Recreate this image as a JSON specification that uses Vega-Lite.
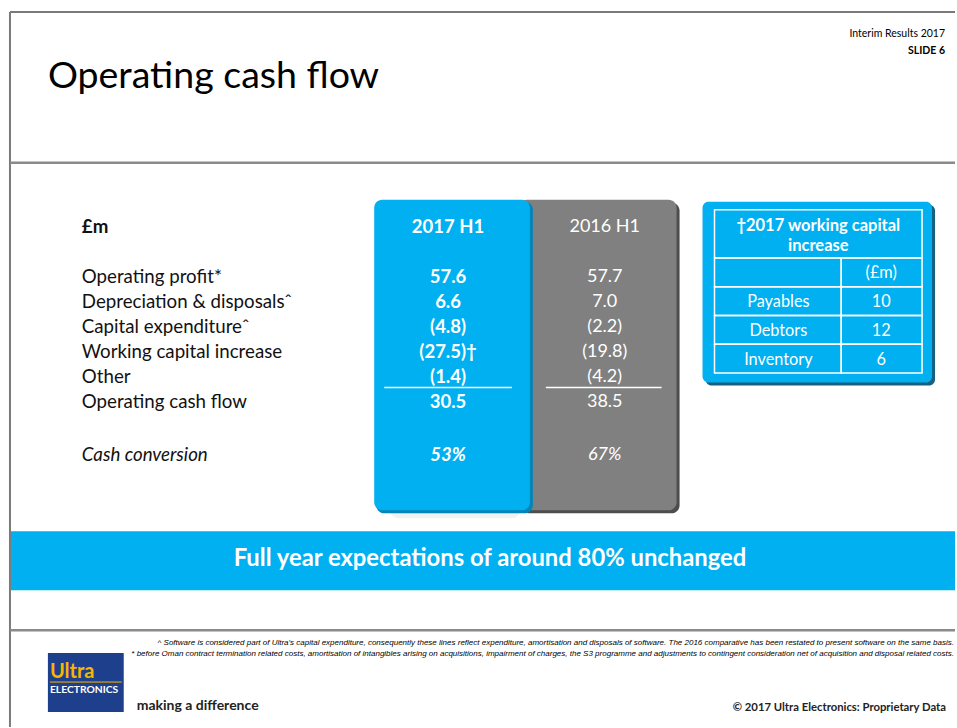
{
  "$schema": "https://vega.github.io/schema/vega-lite/v6.json",
  "width": 957,
  "height": 728,
  "autosize": {"type": "fit", "contains": "padding"},
  "padding": 0,
  "background": "#ffffff",
  "config": {"view": {"stroke": null}, "font": "Lato", "text": {"font": "Lato"}},
  "datasets": {
    "cashflow": [
      {"item": "£m", "h2017": "2017 H1", "h2016": "2016 H1"},
      {"item": "Operating profit*", "h2017": "57.6", "h2016": "57.7"},
      {"item": "Depreciation & disposalsˆ", "h2017": "6.6", "h2016": "7.0"},
      {"item": "Capital expenditureˆ", "h2017": "(4.8)", "h2016": "(2.2)"},
      {"item": "Working capital increase", "h2017": "(27.5)†", "h2016": "(19.8)"},
      {"item": "Other", "h2017": "(1.4)", "h2016": "(4.2)"},
      {"item": "Operating cash flow", "h2017": "30.5", "h2016": "38.5"},
      {"item": "Cash conversion", "h2017": "53%", "h2016": "67%"}
    ],
    "wc": [
      {"component": "(header)", "label": "", "amount": "(£m)"},
      {"component": "Payables", "label": "Payables", "amount": "10"},
      {"component": "Debtors", "label": "Debtors", "amount": "12"},
      {"component": "Inventory", "label": "Inventory", "amount": "6"}
    ]
  },
  "resolve": {"scale": {"x": "shared", "y": "independent"}},
  "layer": [
    {
      "data": {"values": [{}]},
      "mark": {"type": "rule", "stroke": "#7a7a7a", "strokeWidth": 2},
      "encoding": {
        "x": {"datum": 10, "type": "quantitative", "scale": {"domain": [0, 957], "nice": false, "zero": false}, "axis": null},
        "x2": {"datum": 957},
        "y": {"datum": 12, "type": "quantitative", "scale": {"domain": [0, 728], "reverse": true, "nice": false, "zero": false}, "axis": null}
      }
    },
    {
      "data": {"values": [{}]},
      "mark": {"type": "rule", "stroke": "#7a7a7a", "strokeWidth": 2},
      "encoding": {
        "x": {"datum": 10, "type": "quantitative", "scale": {"domain": [0, 957], "nice": false, "zero": false}, "axis": null},
        "y": {"datum": 12, "type": "quantitative", "scale": {"domain": [0, 728], "reverse": true, "nice": false, "zero": false}, "axis": null},
        "y2": {"datum": 728}
      }
    },
    {
      "data": {"values": [{}]},
      "mark": {"type": "rule", "stroke": "#8a8a8a", "strokeWidth": 2.5},
      "encoding": {
        "x": {"datum": 10, "type": "quantitative", "scale": {"domain": [0, 957], "nice": false, "zero": false}, "axis": null},
        "x2": {"datum": 957},
        "y": {"datum": 163, "type": "quantitative", "scale": {"domain": [0, 728], "reverse": true, "nice": false, "zero": false}, "axis": null}
      }
    },
    {
      "data": {"values": [{}]},
      "mark": {"type": "rule", "stroke": "#8a8a8a", "strokeWidth": 2.5},
      "encoding": {
        "x": {"datum": 10, "type": "quantitative", "scale": {"domain": [0, 957], "nice": false, "zero": false}, "axis": null},
        "x2": {"datum": 957},
        "y": {"datum": 631, "type": "quantitative", "scale": {"domain": [0, 728], "reverse": true, "nice": false, "zero": false}, "axis": null}
      }
    },
    {
      "data": {"values": [{}]},
      "mark": {"type": "text", "align": "left", "baseline": "alphabetic", "fontSize": 37.5, "fill": "#000000"},
      "encoding": {
        "x": {"datum": 48, "type": "quantitative", "scale": {"domain": [0, 957], "nice": false, "zero": false}, "axis": null},
        "y": {"datum": 88, "type": "quantitative", "scale": {"domain": [0, 728], "reverse": true, "nice": false, "zero": false}, "axis": null},
        "text": {"value": "Operating cash flow"}
      }
    },
    {
      "data": {"values": [{}]},
      "mark": {"type": "text", "align": "right", "baseline": "middle", "fontSize": 10.5, "fill": "#000000"},
      "encoding": {
        "x": {"datum": 947, "type": "quantitative", "scale": {"domain": [0, 957], "nice": false, "zero": false}, "axis": null},
        "y": {"datum": 34, "type": "quantitative", "scale": {"domain": [0, 728], "reverse": true, "nice": false, "zero": false}, "axis": null},
        "text": {"value": "Interim Results 2017"}
      }
    },
    {
      "data": {"values": [{}]},
      "mark": {"type": "text", "align": "right", "baseline": "middle", "fontSize": 10.5, "fontWeight": "bold", "fill": "#000000"},
      "encoding": {
        "x": {"datum": 947, "type": "quantitative", "scale": {"domain": [0, 957], "nice": false, "zero": false}, "axis": null},
        "y": {"datum": 51, "type": "quantitative", "scale": {"domain": [0, 728], "reverse": true, "nice": false, "zero": false}, "axis": null},
        "text": {"value": "SLIDE 6"}
      }
    },
    {
      "data": {"values": [{}]},
      "mark": {"type": "rect", "fill": "#000000", "opacity": 0.05, "cornerRadius": 10},
      "encoding": {
        "x": {"datum": 390, "type": "quantitative", "scale": {"domain": [0, 957], "nice": false, "zero": false}, "axis": null},
        "x2": {"datum": 522},
        "y": {"datum": 500, "type": "quantitative", "scale": {"domain": [0, 728], "reverse": true, "nice": false, "zero": false}, "axis": null},
        "y2": {"datum": 519}
      }
    },
    {
      "data": {"values": [{}]},
      "mark": {"type": "rect", "fill": "#4d4d4d", "cornerRadius": 8},
      "encoding": {
        "x": {"datum": 523, "type": "quantitative", "scale": {"domain": [0, 957], "nice": false, "zero": false}, "axis": null},
        "x2": {"datum": 681},
        "y": {"datum": 203, "type": "quantitative", "scale": {"domain": [0, 728], "reverse": true, "nice": false, "zero": false}, "axis": null},
        "y2": {"datum": 514}
      }
    },
    {
      "data": {"values": [{}]},
      "mark": {"type": "rect", "fill": "#808080", "cornerRadius": 8},
      "encoding": {
        "x": {"datum": 520, "type": "quantitative", "scale": {"domain": [0, 957], "nice": false, "zero": false}, "axis": null},
        "x2": {"datum": 678},
        "y": {"datum": 200, "type": "quantitative", "scale": {"domain": [0, 728], "reverse": true, "nice": false, "zero": false}, "axis": null},
        "y2": {"datum": 511}
      }
    },
    {
      "data": {"values": [{}]},
      "mark": {"type": "rect", "fill": "#0584b6", "cornerRadius": 8},
      "encoding": {
        "x": {"datum": 377, "type": "quantitative", "scale": {"domain": [0, 957], "nice": false, "zero": false}, "axis": null},
        "x2": {"datum": 534},
        "y": {"datum": 202, "type": "quantitative", "scale": {"domain": [0, 728], "reverse": true, "nice": false, "zero": false}, "axis": null},
        "y2": {"datum": 514}
      }
    },
    {
      "data": {"values": [{}]},
      "mark": {"type": "rect", "fill": "#00b0f0", "cornerRadius": 8},
      "encoding": {
        "x": {"datum": 375, "type": "quantitative", "scale": {"domain": [0, 957], "nice": false, "zero": false}, "axis": null},
        "x2": {"datum": 531},
        "y": {"datum": 200, "type": "quantitative", "scale": {"domain": [0, 728], "reverse": true, "nice": false, "zero": false}, "axis": null},
        "y2": {"datum": 511}
      }
    },
    {
      "data": {"values": [{}]},
      "mark": {"type": "rule", "stroke": "#ffffff", "strokeWidth": 1.5},
      "encoding": {
        "x": {"datum": 385, "type": "quantitative", "scale": {"domain": [0, 957], "nice": false, "zero": false}, "axis": null},
        "x2": {"datum": 513},
        "y": {"datum": 388, "type": "quantitative", "scale": {"domain": [0, 728], "reverse": true, "nice": false, "zero": false}, "axis": null}
      }
    },
    {
      "data": {"values": [{}]},
      "mark": {"type": "rule", "stroke": "#ffffff", "strokeWidth": 1.5},
      "encoding": {
        "x": {"datum": 547, "type": "quantitative", "scale": {"domain": [0, 957], "nice": false, "zero": false}, "axis": null},
        "x2": {"datum": 663},
        "y": {"datum": 388, "type": "quantitative", "scale": {"domain": [0, 728], "reverse": true, "nice": false, "zero": false}, "axis": null}
      }
    },
    {
      "data": {"name": "cashflow"},
      "transform": [{"filter": "datum.item !== '£m' && datum.item !== 'Cash conversion'"}],
      "mark": {"type": "text", "align": "left", "baseline": "middle", "fontSize": 18.7, "fill": "#111111"},
      "encoding": {
        "x": {"datum": 82, "type": "quantitative", "scale": {"domain": [0, 957], "nice": false, "zero": false}, "axis": null},
        "y": {"field": "item", "type": "nominal", "axis": null, "scale": {"type": "point", "domain": ["£m", "gap1", "Operating profit*", "Depreciation & disposalsˆ", "Capital expenditureˆ", "Working capital increase", "Other", "Operating cash flow", "gap2", "Cash conversion"], "range": [227, 452], "padding": 0}},
        "text": {"field": "item"}
      }
    },
    {
      "data": {"name": "cashflow"},
      "transform": [{"filter": "datum.item === '£m'"}],
      "mark": {"type": "text", "align": "left", "baseline": "middle", "fontSize": 18.7, "fontWeight": "bold", "fill": "#111111"},
      "encoding": {
        "x": {"datum": 82, "type": "quantitative", "scale": {"domain": [0, 957], "nice": false, "zero": false}, "axis": null},
        "y": {"field": "item", "type": "nominal", "axis": null, "scale": {"type": "point", "domain": ["£m", "gap1", "Operating profit*", "Depreciation & disposalsˆ", "Capital expenditureˆ", "Working capital increase", "Other", "Operating cash flow", "gap2", "Cash conversion"], "range": [227, 452], "padding": 0}},
        "text": {"field": "item"}
      }
    },
    {
      "data": {"name": "cashflow"},
      "transform": [{"filter": "datum.item === 'Cash conversion'"}],
      "mark": {"type": "text", "align": "left", "baseline": "middle", "fontSize": 18.7, "fontStyle": "italic", "fill": "#111111", "dy": 3},
      "encoding": {
        "x": {"datum": 82, "type": "quantitative", "scale": {"domain": [0, 957], "nice": false, "zero": false}, "axis": null},
        "y": {"field": "item", "type": "nominal", "axis": null, "scale": {"type": "point", "domain": ["£m", "gap1", "Operating profit*", "Depreciation & disposalsˆ", "Capital expenditureˆ", "Working capital increase", "Other", "Operating cash flow", "gap2", "Cash conversion"], "range": [227, 452], "padding": 0}},
        "text": {"field": "item"}
      }
    },
    {
      "data": {"name": "cashflow"},
      "transform": [{"filter": "datum.item !== 'Cash conversion'"}],
      "mark": {"type": "text", "align": "center", "baseline": "middle", "fontSize": 18.5, "fontWeight": "bold", "fill": "#ffffff"},
      "encoding": {
        "x": {"datum": 449, "type": "quantitative", "scale": {"domain": [0, 957], "nice": false, "zero": false}, "axis": null},
        "y": {"field": "item", "type": "nominal", "axis": null, "scale": {"type": "point", "domain": ["£m", "gap1", "Operating profit*", "Depreciation & disposalsˆ", "Capital expenditureˆ", "Working capital increase", "Other", "Operating cash flow", "gap2", "Cash conversion"], "range": [227, 452], "padding": 0}},
        "text": {"field": "h2017"}
      }
    },
    {
      "data": {"name": "cashflow"},
      "transform": [{"filter": "datum.item === 'Cash conversion'"}],
      "mark": {"type": "text", "align": "center", "baseline": "middle", "fontSize": 18.5, "fontWeight": "bold", "fontStyle": "italic", "fill": "#ffffff", "dy": 3},
      "encoding": {
        "x": {"datum": 449, "type": "quantitative", "scale": {"domain": [0, 957], "nice": false, "zero": false}, "axis": null},
        "y": {"field": "item", "type": "nominal", "axis": null, "scale": {"type": "point", "domain": ["£m", "gap1", "Operating profit*", "Depreciation & disposalsˆ", "Capital expenditureˆ", "Working capital increase", "Other", "Operating cash flow", "gap2", "Cash conversion"], "range": [227, 452], "padding": 0}},
        "text": {"field": "h2017"}
      }
    },
    {
      "data": {"name": "cashflow"},
      "transform": [{"filter": "datum.item !== 'Cash conversion'"}],
      "mark": {"type": "text", "align": "center", "baseline": "middle", "fontSize": 18, "fill": "#ffffff"},
      "encoding": {
        "x": {"datum": 606, "type": "quantitative", "scale": {"domain": [0, 957], "nice": false, "zero": false}, "axis": null},
        "y": {"field": "item", "type": "nominal", "axis": null, "scale": {"type": "point", "domain": ["£m", "gap1", "Operating profit*", "Depreciation & disposalsˆ", "Capital expenditureˆ", "Working capital increase", "Other", "Operating cash flow", "gap2", "Cash conversion"], "range": [227, 452], "padding": 0}},
        "text": {"field": "h2016"}
      }
    },
    {
      "data": {"name": "cashflow"},
      "transform": [{"filter": "datum.item === 'Cash conversion'"}],
      "mark": {"type": "text", "align": "center", "baseline": "middle", "fontSize": 18, "fontStyle": "italic", "fill": "#ffffff", "dy": 3},
      "encoding": {
        "x": {"datum": 606, "type": "quantitative", "scale": {"domain": [0, 957], "nice": false, "zero": false}, "axis": null},
        "y": {"field": "item", "type": "nominal", "axis": null, "scale": {"type": "point", "domain": ["£m", "gap1", "Operating profit*", "Depreciation & disposalsˆ", "Capital expenditureˆ", "Working capital increase", "Other", "Operating cash flow", "gap2", "Cash conversion"], "range": [227, 452], "padding": 0}},
        "text": {"field": "h2016"}
      }
    },
    {
      "data": {"values": [{}]},
      "mark": {"type": "rect", "fill": "#17607f", "cornerRadius": 6},
      "encoding": {
        "x": {"datum": 707, "type": "quantitative", "scale": {"domain": [0, 957], "nice": false, "zero": false}, "axis": null},
        "x2": {"datum": 937},
        "y": {"datum": 205, "type": "quantitative", "scale": {"domain": [0, 728], "reverse": true, "nice": false, "zero": false}, "axis": null},
        "y2": {"datum": 386}
      }
    },
    {
      "data": {"values": [{}]},
      "mark": {"type": "rect", "fill": "#00b0f0", "cornerRadius": 6},
      "encoding": {
        "x": {"datum": 704, "type": "quantitative", "scale": {"domain": [0, 957], "nice": false, "zero": false}, "axis": null},
        "x2": {"datum": 934},
        "y": {"datum": 202, "type": "quantitative", "scale": {"domain": [0, 728], "reverse": true, "nice": false, "zero": false}, "axis": null},
        "y2": {"datum": 383}
      }
    },
    {
      "data": {"values": [{}]},
      "mark": {"type": "rect", "fillOpacity": 0, "fill": "#00b0f0", "stroke": "#ffffff", "strokeWidth": 1.5},
      "encoding": {
        "x": {"datum": 716, "type": "quantitative", "scale": {"domain": [0, 957], "nice": false, "zero": false}, "axis": null},
        "x2": {"datum": 924},
        "y": {"datum": 210, "type": "quantitative", "scale": {"domain": [0, 728], "reverse": true, "nice": false, "zero": false}, "axis": null},
        "y2": {"datum": 258}
      }
    },
    {
      "data": {"values": [{}]},
      "mark": {"type": "text", "align": "center", "baseline": "middle", "fontSize": 16.5, "fontWeight": "bold", "fill": "#ffffff", "lineHeight": 20},
      "encoding": {
        "x": {"datum": 820, "type": "quantitative", "scale": {"domain": [0, 957], "nice": false, "zero": false}, "axis": null},
        "y": {"datum": 226, "type": "quantitative", "scale": {"domain": [0, 728], "reverse": true, "nice": false, "zero": false}, "axis": null},
        "text": {"value": ["†2017 working capital", "increase"]}
      }
    },
    {
      "data": {"name": "wc"},
      "mark": {"type": "rect", "fillOpacity": 0, "fill": "#00b0f0", "stroke": "#ffffff", "strokeWidth": 1.5},
      "encoding": {
        "x": {"datum": 716, "type": "quantitative", "scale": {"domain": [0, 957], "nice": false, "zero": false}, "axis": null},
        "x2": {"datum": 843},
        "y": {"field": "component", "type": "nominal", "axis": null, "scale": {"type": "band", "domain": ["(header)", "Payables", "Debtors", "Inventory"], "range": [258, 373], "paddingInner": 0, "paddingOuter": 0}}
      }
    },
    {
      "data": {"name": "wc"},
      "mark": {"type": "rect", "fillOpacity": 0, "fill": "#00b0f0", "stroke": "#ffffff", "strokeWidth": 1.5},
      "encoding": {
        "x": {"datum": 843, "type": "quantitative", "scale": {"domain": [0, 957], "nice": false, "zero": false}, "axis": null},
        "x2": {"datum": 924},
        "y": {"field": "component", "type": "nominal", "axis": null, "scale": {"type": "band", "domain": ["(header)", "Payables", "Debtors", "Inventory"], "range": [258, 373], "paddingInner": 0, "paddingOuter": 0}}
      }
    },
    {
      "data": {"name": "wc"},
      "mark": {"type": "text", "align": "center", "baseline": "middle", "fontSize": 16.3, "fill": "#ffffff", "dy": 1},
      "encoding": {
        "x": {"datum": 780, "type": "quantitative", "scale": {"domain": [0, 957], "nice": false, "zero": false}, "axis": null},
        "y": {"field": "component", "type": "nominal", "axis": null, "scale": {"type": "band", "domain": ["(header)", "Payables", "Debtors", "Inventory"], "range": [258, 373], "paddingInner": 0, "paddingOuter": 0}},
        "text": {"field": "label"}
      }
    },
    {
      "data": {"name": "wc"},
      "mark": {"type": "text", "align": "center", "baseline": "middle", "fontSize": 16.3, "fill": "#ffffff", "dy": 1},
      "encoding": {
        "x": {"datum": 883, "type": "quantitative", "scale": {"domain": [0, 957], "nice": false, "zero": false}, "axis": null},
        "y": {"field": "component", "type": "nominal", "axis": null, "scale": {"type": "band", "domain": ["(header)", "Payables", "Debtors", "Inventory"], "range": [258, 373], "paddingInner": 0, "paddingOuter": 0}},
        "text": {"field": "amount"}
      }
    },
    {
      "data": {"values": [{}]},
      "mark": {"type": "rect", "fill": "#00b0f0"},
      "encoding": {
        "x": {"datum": 11, "type": "quantitative", "scale": {"domain": [0, 957], "nice": false, "zero": false}, "axis": null},
        "x2": {"datum": 957},
        "y": {"datum": 532, "type": "quantitative", "scale": {"domain": [0, 728], "reverse": true, "nice": false, "zero": false}, "axis": null},
        "y2": {"datum": 591}
      }
    },
    {
      "data": {"values": [{}]},
      "mark": {"type": "text", "align": "center", "baseline": "middle", "fontSize": 23.8, "fontWeight": "bold", "fill": "#ffffff"},
      "encoding": {
        "x": {"datum": 491, "type": "quantitative", "scale": {"domain": [0, 957], "nice": false, "zero": false}, "axis": null},
        "y": {"datum": 560, "type": "quantitative", "scale": {"domain": [0, 728], "reverse": true, "nice": false, "zero": false}, "axis": null},
        "text": {"value": "Full year expectations of around 80% unchanged"}
      }
    },
    {
      "data": {"values": [{}]},
      "mark": {"type": "text", "align": "right", "baseline": "middle", "fontSize": 8, "fontStyle": "italic", "font": "Liberation Sans", "fill": "#000000"},
      "encoding": {
        "x": {"datum": 956, "type": "quantitative", "scale": {"domain": [0, 957], "nice": false, "zero": false}, "axis": null},
        "y": {"datum": 644, "type": "quantitative", "scale": {"domain": [0, 728], "reverse": true, "nice": false, "zero": false}, "axis": null},
        "text": {"value": "^ Software is considered part of Ultra's capital expenditure, consequently these lines reflect expenditure, amortisation and disposals of software. The 2016 comparative has been restated to present software on the same basis."}
      }
    },
    {
      "data": {"values": [{}]},
      "mark": {"type": "text", "align": "right", "baseline": "middle", "fontSize": 8, "fontStyle": "italic", "font": "Liberation Sans", "fill": "#000000"},
      "encoding": {
        "x": {"datum": 956, "type": "quantitative", "scale": {"domain": [0, 957], "nice": false, "zero": false}, "axis": null},
        "y": {"datum": 655, "type": "quantitative", "scale": {"domain": [0, 728], "reverse": true, "nice": false, "zero": false}, "axis": null},
        "text": {"value": "* before Oman contract termination related costs, amortisation of intangibles arising on acquisitions, impairment of charges, the S3 programme and adjustments to contingent consideration net of acquisition and disposal related costs."}
      }
    },
    {
      "data": {"values": [{}]},
      "mark": {"type": "rect", "fill": "#1d3f8c"},
      "encoding": {
        "x": {"datum": 48, "type": "quantitative", "scale": {"domain": [0, 957], "nice": false, "zero": false}, "axis": null},
        "x2": {"datum": 124},
        "y": {"datum": 654, "type": "quantitative", "scale": {"domain": [0, 728], "reverse": true, "nice": false, "zero": false}, "axis": null},
        "y2": {"datum": 713}
      }
    },
    {
      "data": {"values": [{}]},
      "mark": {"type": "text", "align": "left", "baseline": "middle", "fontSize": 20, "fontWeight": "bold", "fill": "#f7b500"},
      "encoding": {
        "x": {"datum": 50, "type": "quantitative", "scale": {"domain": [0, 957], "nice": false, "zero": false}, "axis": null},
        "y": {"datum": 673, "type": "quantitative", "scale": {"domain": [0, 728], "reverse": true, "nice": false, "zero": false}, "axis": null},
        "text": {"value": "Ultra"}
      }
    },
    {
      "data": {"values": [{}]},
      "mark": {"type": "rule", "stroke": "#f7b500", "strokeWidth": 1},
      "encoding": {
        "x": {"datum": 50, "type": "quantitative", "scale": {"domain": [0, 957], "nice": false, "zero": false}, "axis": null},
        "x2": {"datum": 122},
        "y": {"datum": 683, "type": "quantitative", "scale": {"domain": [0, 728], "reverse": true, "nice": false, "zero": false}, "axis": null}
      }
    },
    {
      "data": {"values": [{}]},
      "mark": {"type": "text", "align": "left", "baseline": "middle", "fontSize": 10.3, "fontWeight": "bold", "fill": "#ffffff"},
      "encoding": {
        "x": {"datum": 50, "type": "quantitative", "scale": {"domain": [0, 957], "nice": false, "zero": false}, "axis": null},
        "y": {"datum": 691, "type": "quantitative", "scale": {"domain": [0, 728], "reverse": true, "nice": false, "zero": false}, "axis": null},
        "text": {"value": "ELECTRONICS"}
      }
    },
    {
      "data": {"values": [{}]},
      "mark": {"type": "text", "align": "left", "baseline": "middle", "fontSize": 14, "fontWeight": "bold", "fill": "#222222"},
      "encoding": {
        "x": {"datum": 137, "type": "quantitative", "scale": {"domain": [0, 957], "nice": false, "zero": false}, "axis": null},
        "y": {"datum": 707, "type": "quantitative", "scale": {"domain": [0, 728], "reverse": true, "nice": false, "zero": false}, "axis": null},
        "text": {"value": "making a difference"}
      }
    },
    {
      "data": {"values": [{}]},
      "mark": {"type": "text", "align": "right", "baseline": "middle", "fontSize": 11.3, "fontWeight": "bold", "fill": "#222222"},
      "encoding": {
        "x": {"datum": 948, "type": "quantitative", "scale": {"domain": [0, 957], "nice": false, "zero": false}, "axis": null},
        "y": {"datum": 709, "type": "quantitative", "scale": {"domain": [0, 728], "reverse": true, "nice": false, "zero": false}, "axis": null},
        "text": {"value": "© 2017 Ultra Electronics: Proprietary Data"}
      }
    }
  ]
}
